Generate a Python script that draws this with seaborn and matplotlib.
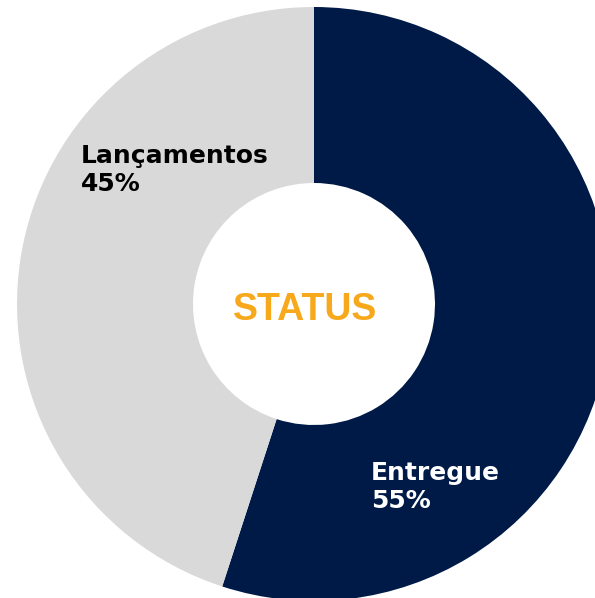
import matplotlib
matplotlib.use("Agg")
import matplotlib.pyplot as plt
import seaborn as sns

categories = ["Entregue", "Lançamentos"]
values = [55, 45]
center_title = "STATUS"

sns.set_style("white")
colors = ["#001a47", "#d9d9d9"]
text_colors = ["white", "black"]

fig = plt.figure(figsize=(5.95, 5.98), dpi=100)
ax = fig.add_axes([0, 0, 1, 1])

R = 297
cx, cy = 314, 294
wedges, _ = ax.pie(values, colors=colors, startangle=90, counterclock=False,
                   radius=R, center=(cx, cy), frame=True,
                   wedgeprops=dict(width=R - 121, linewidth=0))
ax.set_xlim(0, 595)
ax.set_ylim(0, 598)
ax.set_aspect("equal")
ax.axis("off")

label_pos = [(371, 111), (81, 428)]
for cat, v, (x, y), tc in zip(categories, values, label_pos, text_colors):
    ax.text(x, y, f"{cat}\n{v}%", ha="left", va="center", color=tc,
            fontsize=18, fontweight="bold", family=["DejaVu Sans"],
            linespacing=1.2)

ax.text(cx - 9, cy - 6, center_title, ha="center", va="center", color="#f7a81b",
        fontsize=27, fontweight="bold", family=["Liberation Sans"])

fig.savefig("out.png", dpi=100)
